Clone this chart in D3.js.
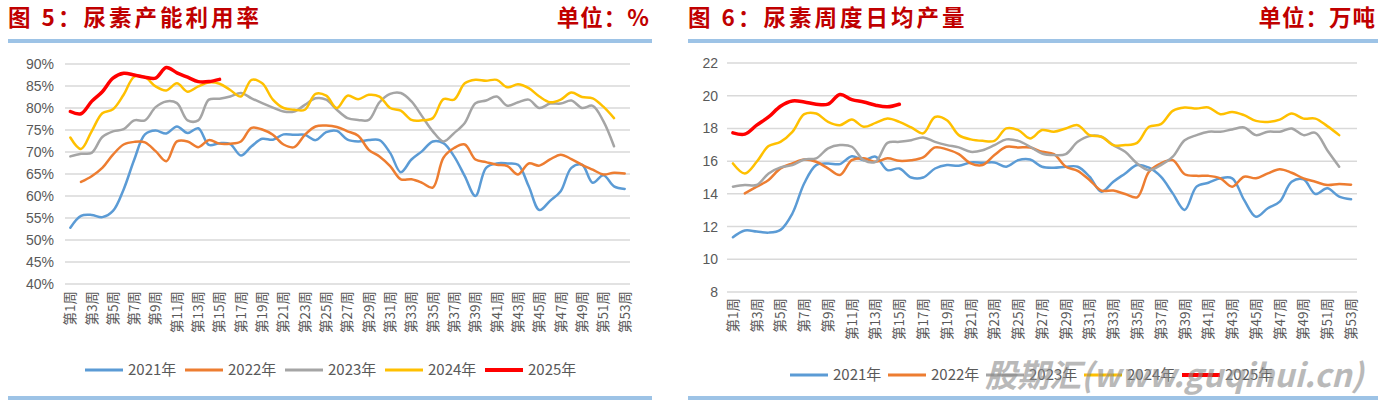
<!DOCTYPE html>
<html>
<head>
<meta charset="utf-8">
<script src="https://cdn.jsdelivr.net/npm/d3@7/dist/d3.min.js"></script>
<style>
  body { margin: 0; background: #fff; }
  svg { display: block; }
</style>
</head>
<body>
<div id="chart"></div>
<script>
// weeks 1..53, labels on odd weeks
const weeks = d3.range(1, 54);
const years = ['2021年', '2022年', '2023年', '2024年', '2025年'];
const colors = ['#5b9bd5', '#ed7d31', '#a5a5a5', '#ffc000', '#ff0000'];

// 图5 尿素产能利用率 (%)
const cap2021 = [52.8, 55.5, 55.7, 55.2, 56.6, 61.5, 68.3, 74, 74.9, 74.2, 75.8, 74.3, 75.4, 71.6, 72, 71.8, 69.2, 71.3, 73, 72.8, 74, 73.9, 73.9, 72.7, 74.5, 74.8, 72.8, 72.4, 72.7, 72.7, 69.8, 65.4, 68.3, 70.2, 72.4, 72, 69, 64.5, 60, 66.4, 67.4, 67.4, 67.1, 62.2, 56.8, 58.9, 61.1, 66.4, 67.1, 63, 64.7, 62.2, 61.6];
const cap2022 = [null, 63.2, 64.5, 66.4, 69.4, 71.7, 72.3, 72.2, 70.2, 67.9, 72.4, 72.4, 71.1, 72.7, 71.9, 71.9, 72.4, 75.5, 75.1, 73.9, 71.7, 71.1, 73.9, 75.8, 76, 75.7, 74.7, 73.7, 70.5, 69, 66.8, 63.8, 63.8, 63, 61.9, 68.7, 70.9, 71.7, 68.3, 67.7, 67.1, 66.8, 64.9, 67.4, 66.9, 68.3, 69.4, 68.4, 67.1, 66, 64.9, 65.3, 65.1];
const cap2023 = [69, 69.6, 69.8, 73.4, 74.7, 75.2, 77.2, 77.2, 80.2, 81.5, 81.1, 77.2, 77.2, 81.9, 82.1, 82.6, 83.4, 82.2, 81.1, 80.1, 79.2, 79.2, 80.7, 82.2, 81.9, 79.6, 77.7, 77.3, 77.3, 81.3, 83.2, 83.4, 81.5, 78.1, 74.7, 72.4, 74.3, 76.6, 81.1, 81.7, 82.6, 80.5, 81.3, 81.9, 80, 81, 81, 81.7, 80, 80.5, 77, 71.3];
const cap2024 = [73.3, 70.7, 74.7, 78.8, 79.7, 83, 87.1, 87, 84.9, 84, 85.6, 83.7, 84.9, 85.8, 85.5, 84.1, 82.6, 86.4, 85.6, 81.9, 80, 79.6, 79.6, 83.2, 82.8, 80, 82.8, 82, 83, 82.6, 80, 79.4, 77.3, 77.2, 77.7, 82, 81.9, 85.6, 86.4, 86.2, 86.4, 84.7, 85.4, 84.5, 82.6, 81.3, 81.9, 83.5, 82.5, 82.2, 80.3, 77.7];
const cap2025 = [79.2, 78.7, 81.5, 83.7, 86.8, 87.9, 87.5, 87, 86.8, 89.2, 88, 87, 86, 86, 86.5];
const capTicks = [40, 45, 50, 55, 60, 65, 70, 75, 80, 85, 90];

// 图6 尿素周度日均产量 (万吨)
const out2021 = [11.35, 11.76, 11.7, 11.63, 11.8, 12.8, 14.65, 15.76, 15.86, 15.82, 16.3, 16.06, 16.27, 15.45, 15.55, 15, 15, 15.55, 15.76, 15.72, 15.92, 15.9, 15.92, 15.66, 16.06, 16.1, 15.66, 15.6, 15.66, 15.66, 15.05, 14.13, 14.74, 15.25, 15.76, 15.6, 15.05, 14.03, 13.02, 14.44, 14.68, 14.95, 14.95, 13.63, 12.6, 13.12, 13.52, 14.74, 14.89, 13.99, 14.34, 13.83, 13.67];
const out2022 = [null, 14.03, 14.44, 14.85, 15.56, 15.86, 16.1, 15.96, 15.56, 15.15, 16.06, 16.17, 15.96, 16.17, 16.02, 16.06, 16.23, 16.84, 16.72, 16.43, 15.86, 15.76, 16.37, 16.88, 16.84, 16.84, 16.57, 16.43, 15.66, 15.41, 14.85, 14.2, 14.2, 13.99, 13.79, 15.35, 15.86, 16.06, 15.2, 15.1, 15.1, 14.95, 14.44, 15.05, 14.95, 15.25, 15.51, 15.29, 14.95, 14.74, 14.54, 14.6, 14.56];
const out2023 = [14.44, 14.54, 14.54, 15.25, 15.62, 15.76, 16.1, 16.17, 16.78, 16.98, 16.88, 16.06, 15.96, 17.12, 17.18, 17.28, 17.45, 17.18, 16.98, 16.84, 16.57, 16.67, 16.98, 17.33, 17.24, 16.88, 16.47, 16.37, 16.43, 17.18, 17.53, 17.49, 16.98, 16.57, 15.86, 15.45, 15.76, 16.27, 17.28, 17.59, 17.8, 17.8, 17.94, 18.06, 17.59, 17.8, 17.8, 18, 17.59, 17.73, 16.67, 15.66];
const out2024 = [15.86, 15.25, 15.96, 16.92, 17.18, 17.79, 18.87, 18.91, 18.4, 18.2, 18.54, 18.1, 18.34, 18.6, 18.4, 18.06, 17.7, 18.7, 18.5, 17.59, 17.33, 17.24, 17.24, 18, 17.9, 17.39, 17.9, 17.8, 18, 18.2, 17.59, 17.49, 16.98, 16.98, 17.12, 18.1, 18.26, 19.07, 19.28, 19.22, 19.28, 18.87, 19.01, 18.81, 18.46, 18.4, 18.54, 18.91, 18.6, 18.6, 18.14, 17.59];
const out2025 = [17.73, 17.65, 18.2, 18.7, 19.36, 19.68, 19.62, 19.48, 19.48, 20.07, 19.76, 19.62, 19.42, 19.32, 19.48];
const outTicks = [8, 10, 12, 14, 16, 18, 20, 22];

const W = 1384, H = 405;
const svg = d3.select('#chart').append('svg').attr('width', W).attr('height', H);

const cjk = '"Noto Sans CJK SC", "Noto Sans", sans-serif';
const titleRed = '#c00000';
const frameBlue = '#9dc3e6';
const textGray = '#595959';

function header(x0, x1, title, unit) {
    svg.append('text').attr('x', x0).attr('y', 26)
        .attr('font-family', cjk).attr('font-weight', 'bold').attr('font-size', 22.5)
        .attr('letter-spacing', 3).attr('fill', titleRed).text(title);
    svg.append('text').attr('x', x1 - 2).attr('y', 26).attr('text-anchor', 'end')
        .attr('font-family', cjk).attr('font-weight', 'bold').attr('font-size', 22.5)
        .attr('letter-spacing', 1).attr('fill', titleRed).text(unit);
    svg.append('rect').attr('x', x0).attr('y', 39).attr('width', x1 - x0).attr('height', 4).attr('fill', frameBlue);
    svg.append('rect').attr('x', x0).attr('y', 396).attr('width', x1 - x0).attr('height', 4).attr('fill', frameBlue);
}

function panel(cfg) {
    const x = d3.scaleBand().domain(weeks).range([cfg.left, cfg.right]);
    const cx = w => x(w) + x.bandwidth() / 2;
    const y = d3.scaleLinear().domain(cfg.domain).range([cfg.bottom, cfg.top]);
    const g = svg.append('g');

    // grid + y labels
    g.selectAll('line.grid').data(cfg.ticks).enter().append('line')
        .attr('x1', cfg.left).attr('x2', cfg.right)
        .attr('y1', d => y(d)).attr('y2', d => y(d))
        .attr('stroke', '#d9d9d9').attr('stroke-width', 1.5);
    g.selectAll('text.ylab').data(cfg.ticks).enter().append('text')
        .attr('x', cfg.labelX).attr('y', d => y(d)).attr('dy', '0.36em')
        .attr('text-anchor', 'end').attr('font-family', '"Liberation Sans", Arial, sans-serif')
        .attr('font-size', 14).attr('fill', textGray)
        .text(cfg.fmt);

    // x labels on odd weeks, rotated
    g.selectAll('text.xlab').data(weeks.filter(w => w % 2 === 1)).enter().append('text')
        .attr('transform', w => `translate(${cx(w)},${cfg.bottom + cfg.xLabGap}) rotate(-90)`)
        .attr('dy', '0.36em').attr('text-anchor', 'end')
        .attr('font-family', cjk).attr('font-size', 13.5).attr('fill', textGray)
        .text(w => `第${w}周`);

    const line = d3.line()
        .defined(d => d.v != null)
        .x(d => cx(d.w)).y(d => y(d.v))
        .curve(d3.curveCatmullRom.alpha(0.5));

    cfg.series.forEach((s, i) => {
        const pts = s.map((v, j) => ({ w: j + 1, v: v }));
        g.append('path').datum(pts)
            .attr('d', line).attr('fill', 'none')
            .attr('stroke', colors[i]).attr('stroke-width', i === 4 ? 3.5 : 2.5)
            .attr('stroke-linejoin', 'round').attr('stroke-linecap', 'round');
    });

    // legend
    const lg = g.selectAll('g.leg').data(years).enter().append('g')
        .attr('transform', (d, i) => `translate(${cfg.legX + i * cfg.legStep},${cfg.legY})`);
    lg.append('line').attr('x1', 0).attr('x2', 38).attr('y1', 0).attr('y2', 0)
        .attr('stroke', (d, i) => colors[i]).attr('stroke-width', (d, i) => i === 4 ? 4 : 3);
    lg.append('text').attr('x', 43).attr('y', 0).attr('dy', '0.36em')
        .attr('font-family', cjk).attr('font-size', 15).attr('fill', textGray)
        .text(d => d);
}

header(8, 652, '图 5：尿素产能利用率', '单位：%');
header(688, 1378, '图 6：尿素周度日均产量', '单位：万吨');

panel({
    left: 65, right: 630, top: 64, bottom: 284,
    domain: [40, 90], ticks: capTicks, fmt: d => d + '%', labelX: 54,
    xLabGap: 7,
    series: [cap2021, cap2022, cap2023, cap2024, cap2025],
    legX: 85, legY: 370, legStep: 100
});

panel({
    left: 727, right: 1357, top: 63, bottom: 292,
    domain: [8, 22], ticks: outTicks, fmt: d => d, labelX: 718,
    xLabGap: 6,
    series: [out2021, out2022, out2023, out2024, out2025],
    legX: 790, legY: 375, legStep: 98
});

// site watermark
svg.append('text').attr('x', 985).attr('y', 387)
    .attr('font-family', cjk).attr('font-weight', 'bold').attr('font-style', 'italic')
    .attr('font-size', 32).attr('fill', '#8c8c8c').attr('opacity', 0.6)
    .text('股期汇(www.guqihui.cn)');
</script>
</body>
</html>
